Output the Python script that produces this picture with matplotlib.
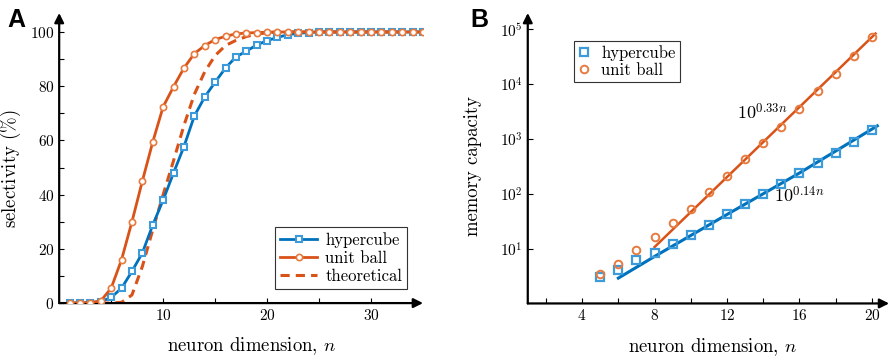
import numpy as np
import matplotlib
matplotlib.use("Agg")
from matplotlib import pyplot as plt

plt.rcParams['font.family'] = 'serif'
plt.rcParams['font.serif'] = ['cmr10']
plt.rcParams['mathtext.fontset'] = 'cm'
plt.rcParams['axes.formatter.use_mathtext'] = True
plt.rcParams['axes.unicode_minus'] = False

# Panel A : selectivity vs neuron dimension
n_a = np.arange(1, 36)
hypercube_a = [0, 0, 0.2, 0.5, 2.1, 5.5, 11.7, 18.5, 28.8, 38, 48, 57.7, 69, 76,
               81.5, 86.7, 90.8, 92.9, 95.2, 96.8, 98, 99, 99.5, 99.8] + [100] * 11
unitball_a = [0, 0, 0.2, 0.8, 5.5, 16, 30, 45, 59.4, 72.4, 79.8, 86.7, 92, 95,
              97.2, 98.4, 99.3, 99.6, 99.8, 99.9] + [100] * 15
theory_a = [0, 0, 0, 0, 0, 0.3, 3, 13.5, 27, 40, 52.5, 65.5, 77, 85.3, 91.3, 95,
            96.9, 98.3, 99.2, 99.7] + [100] * 15

# Panel B : memory capacity
n_b = np.arange(5, 21)
hypercube_b = [3.05, 4.1, 6.1, 8.3, 12, 17.8, 27, 43, 66, 100, 154, 240, 363, 554, 900, 1480]
unitball_b = [3.4, 5.2, 9.3, 16.4, 29, 52, 108, 212, 424, 834, 1683, 3600, 7590, 15600,
              32900, 72400]
fit_ball_n = [8, 20.2]
fit_ball = [10.7, 84000]
fit_cube_n = [6, 8, 12, 16, 20.3]
fit_cube = [2.9, 7.2, 42, 240, 1740]

blue = '#0072BD'
blue_m = '#3D9BDA'
orange = '#D95319'
orange_m = '#E77B3F'
fs = 11     # ticks
fl = 13.5   # axis labels

fig = plt.figure(figsize=(8.9, 3.57), dpi=100)
axA = fig.add_axes([0.0665, 0.151, 0.4088, 0.8126])
axB = fig.add_axes([0.593, 0.150, 0.406, 0.8136])


def arrows(ax):
    for s in ['top', 'right', 'left', 'bottom']:
        ax.spines[s].set_visible(False)
    kw = dict(xycoords='axes fraction', textcoords='axes fraction',
              arrowprops=dict(arrowstyle='-|>', color='k', lw=1.6, mutation_scale=14,
                              shrinkA=0, shrinkB=0))
    ax.annotate('', xy=(1.0, 0), xytext=(0, 0), **kw)
    ax.annotate('', xy=(0, 1.0), xytext=(0, 0), **kw)
    ax.tick_params(direction='in', length=3.5, width=0.8, labelsize=fs)
    ax.tick_params(which='minor', direction='in', length=3.5, width=0.8)


# ---- A ----
axA.plot(n_a, theory_a, '--', color=orange, lw=2.2, dashes=(3, 2), label='theoretical', zorder=2)
axA.plot(n_a, hypercube_a, '-s', color=blue, lw=2.0, ms=4.5, mfc='white', mec=blue_m, mew=1.5,
         label='hypercube', zorder=3)
axA.plot(n_a, unitball_a, '-o', color=orange, lw=2.0, ms=4.5, mfc='white', mec=orange_m, mew=1.2,
         label='unit ball', zorder=4)
axA.set_xlim(0, 35)
axA.set_ylim(0, 107)
axA.set_xticks([10, 20, 30])
axA.set_xticks([5, 15, 25], minor=True)
axA.set_yticks([0, 20, 40, 60, 80, 100])
axA.set_yticks([10, 30, 50, 70, 90], minor=True)
arrows(axA)
axA.set_xlabel('neuron dimension, $n$', fontsize=fl)
axA.set_ylabel(r'selectivity ($\%$)', fontsize=fl)
axA.xaxis.set_label_coords(0.53, -0.112)
axA.yaxis.set_label_coords(-0.10, 0.462)
h, l = axA.get_legend_handles_labels()
leg = axA.legend([h[1], h[2], h[0]], [l[1], l[2], l[0]], loc='lower right',
                 bbox_to_anchor=(0.957, 0.05), fontsize=12, fancybox=False,
                 edgecolor='#333333', framealpha=1, handlelength=2.2, borderpad=0.3,
                 labelspacing=0.15, handletextpad=0.5, borderaxespad=0)
leg.get_frame().set_linewidth(0.8)

# ---- B ----
axB.plot(fit_ball_n, fit_ball, '-', color=orange, lw=1.8, zorder=2)
axB.plot(fit_cube_n, fit_cube, '-', color=blue, lw=2.2, zorder=2)
axB.plot(n_b, hypercube_b, 's', ms=5.5, mfc='none', mec=blue_m, mew=1.6, label='hypercube', zorder=3)
axB.plot(n_b, unitball_b, 'o', ms=5.5, mfc='none', mec=orange_m, mew=1.4, label='unit ball', zorder=3)
axB.set_yscale('log')
axB.set_xlim(1, 20.95)
axB.set_ylim(1, 10 ** 5.3)
axB.set_xticks([4, 8, 12, 16, 20])
axB.set_xticks([2, 6, 10, 14, 18], minor=True)
axB.set_yticks([10, 100, 1000, 1e4, 1e5])
axB.yaxis.set_minor_locator(matplotlib.ticker.NullLocator())
arrows(axB)
axB.set_xlabel('neuron dimension, $n$', fontsize=fl)
axB.set_ylabel('memory capacity', fontsize=fl)
axB.xaxis.set_label_coords(0.51, -0.112)
axB.yaxis.set_label_coords(-0.127, 0.474)
axB.text(12.57, 2240, '$10^{0.33n}$', fontsize=13, ha='left', va='baseline')
axB.text(14.6, 69, '$10^{0.14n}$', fontsize=13, ha='left', va='baseline')
leg = axB.legend(loc='upper left', bbox_to_anchor=(0.127, 0.905), fontsize=12, fancybox=False,
                 edgecolor='#333333', framealpha=1, handlelength=0.8, borderpad=0.25,
                 labelspacing=0.12, handletextpad=0.6, borderaxespad=0)
leg.get_frame().set_linewidth(0.8)

fig.text(0.008, 0.925, 'A', fontsize=18, fontweight='bold', family='Liberation Sans')
fig.text(0.529, 0.925, 'B', fontsize=18, fontweight='bold', family='Liberation Sans')

fig.savefig('out.png', dpi=100)
